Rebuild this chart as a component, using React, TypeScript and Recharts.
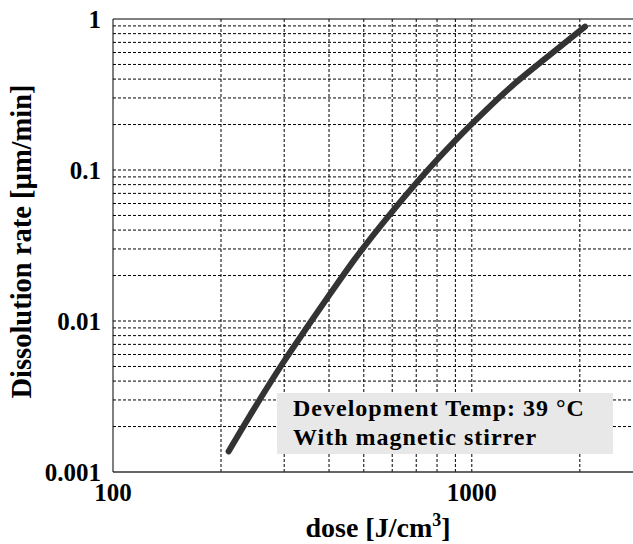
import { LineChart, Line, XAxis, YAxis, ReferenceLine } from 'recharts';

// dose [J/cm3] vs dissolution rate [um/min]
const doses = [210, 246, 298, 350, 402, 473, 604, 798, 1010, 1278, 1618, 2068];
const rates = [0.00137, 0.00257, 0.0053, 0.00933, 0.01503, 0.0259, 0.0541, 0.116, 0.2065, 0.351, 0.557, 0.89];

const xTicks = [100, 1000];
const yTicks = [0.001, 0.01, 0.1, 1];
const xGrid = [200, 300, 400, 500, 600, 700, 800, 900, 1000, 2000];
const yGrid = [
  0.002, 0.003, 0.004, 0.005, 0.006, 0.007, 0.008, 0.009, 0.01,
  0.02, 0.03, 0.04, 0.05, 0.06, 0.07, 0.08, 0.09, 0.1,
  0.2, 0.3, 0.4, 0.5, 0.6, 0.7, 0.8, 0.9,
];
const noteLines = ['Development Temp: 39 \u00b0C', 'With magnetic stirrer'];

const data = doses.map((d, i) => ({ dose: d, rate: rates[i] }));

const FONT = '"Liberation Serif", "Times New Roman", serif';
const tickStyle = { fontFamily: FONT, fontWeight: 'bold', fontSize: 25, fill: '#000' };

const XLabel = (props: any) => {
  const vb = props.viewBox;
  const cx = vb.x + vb.width / 2;
  return (
    <text x={cx} y={vb.y + 65} textAnchor="middle" fontFamily={FONT} fontWeight="bold" fontSize={28} fill="#000">
      dose [J/cm
      <tspan fontSize={18} dy={-11}>3</tspan>
      <tspan dy={11}>]</tspan>
    </text>
  );
};

const YLabel = (props: any) => {
  const vb = props.viewBox;
  const cy = vb.y + vb.height / 2 - 4;
  return (
    <text
      x={31}
      y={cy}
      transform={`rotate(-90, 31, ${cy})`}
      textAnchor="middle"
      fontFamily={FONT}
      fontWeight="bold"
      fontSize={28.5}
      fill="#000"
    >
      Dissolution rate [µm/min]
    </text>
  );
};

export default function App() {
  return (
    <div style={{ position: 'fixed', left: 0, top: 0, width: 633, height: 544, overflow: 'hidden', background: '#fff' }}>
      <LineChart width={660} height={544} data={data} margin={{ top: 19, right: 17, bottom: 22, left: 0 }}>
        <XAxis
          dataKey="dose"
          type="number"
          scale="log"
          domain={[100, 3000]}
          ticks={xTicks}
          allowDataOverflow
          tickLine={false}
          tickMargin={5}
          height={50}
          axisLine={{ stroke: '#333', strokeWidth: 1.5 }}
          tick={tickStyle}
          label={{ content: XLabel }}
        />
        <YAxis
          dataKey="rate"
          type="number"
          scale="log"
          domain={[0.001, 1]}
          ticks={yTicks}
          allowDataOverflow
          tickLine={false}
          tickMargin={6}
          width={113}
          axisLine={{ stroke: '#000', strokeWidth: 1 }}
          tick={tickStyle}
          tickFormatter={(v: number) => String(v)}
          label={{ content: YLabel }}
        />
        {yGrid.map((v) => (
          <ReferenceLine key={`y${v}`} y={v} stroke="#000" strokeWidth={1} strokeDasharray="3 2" />
        ))}
        {xGrid.map((v) => (
          <ReferenceLine key={`x${v}`} x={v} stroke="#000" strokeWidth={1} strokeDasharray="3 2" />
        ))}
        <ReferenceLine y={1} stroke="#000" strokeWidth={1} />
        <Line
          dataKey="rate"
          type="monotone"
          stroke="#333"
          strokeWidth={6}
          strokeLinecap="round"
          dot={false}
          isAnimationActive={false}
        />
      </LineChart>
      <div
        style={{
          position: 'absolute',
          left: 277,
          top: 393,
          width: 336,
          height: 61,
          boxSizing: 'border-box',
          paddingTop: 1,
          paddingLeft: 16,
          background: '#e8e8e8',
          fontFamily: FONT,
          fontWeight: 'bold',
          fontSize: 24,
          lineHeight: '29px',
          letterSpacing: 1,
          color: '#000',
          whiteSpace: 'nowrap',
        }}
      >
        {noteLines.map((t) => (
          <div key={t}>{t}</div>
        ))}
      </div>
    </div>
  );
}
